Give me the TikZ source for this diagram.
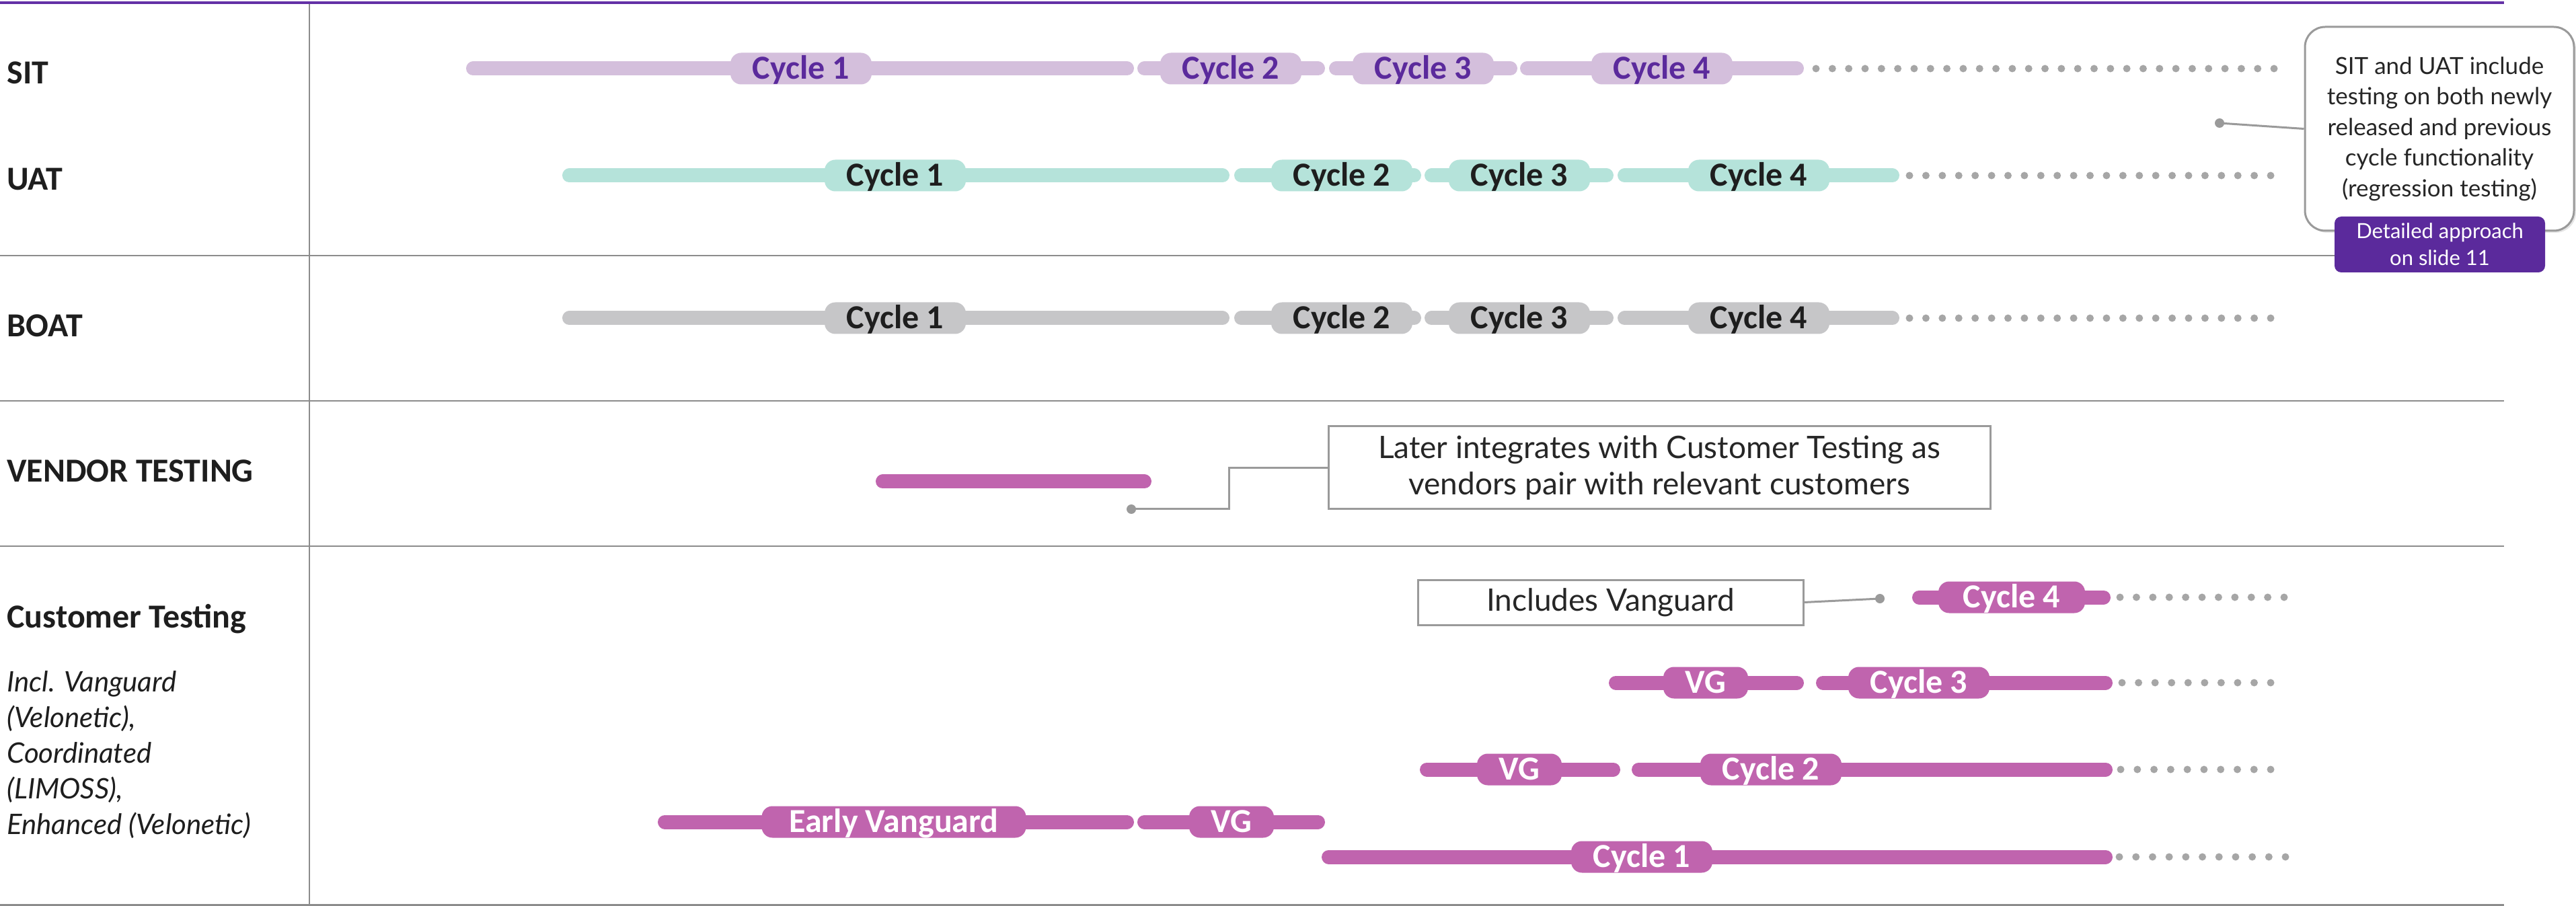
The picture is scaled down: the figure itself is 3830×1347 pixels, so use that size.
\documentclass[tikz,border=0pt]{standalone}
\usepackage{fontspec}
\setmainfont{Lato}
\newfontfamily\headface{Carlito}
\usetikzlibrary{shadows,calc}

\definecolor{sitfill}{HTML}{D4BFDC}
\definecolor{sitink}{HTML}{5B2A9C}
\definecolor{uatfill}{HTML}{B5E3DA}
\definecolor{boatfill}{HTML}{C6C6C8}
\definecolor{custfill}{HTML}{C064AE}
\definecolor{ink}{HTML}{1E1E1E}
\definecolor{softink}{HTML}{262626}
\definecolor{gridgray}{HTML}{8C8C8C}
\definecolor{dotgray}{HTML}{A6A6A6}
\definecolor{boxgray}{HTML}{9A9A9A}
\definecolor{brandpurple}{HTML}{6331A6}
\definecolor{linkpurple}{HTML}{5B2A9C}

% one timeline bar with round ends; #2 and #3 are its outer ends, #4 its row
\newcommand{\tlbar}[4]{\draw[barline,#1] ({#2+10.5},#4) -- ({#3-10.5},#4);}
% a run of #4 grey dots from x=#1 to x=#2 on row #3
\newcommand{\tldots}[4]{%
  \pgfmathsetmacro{\dotstep}{(#2-#1)/(#4-1)}%
  \foreach \k in {1,...,#4}{\fill[dotgray] ({#1+(\k-1)*\dotstep},#3) circle (5.5);}}

\begin{document}
\begin{tikzpicture}[x=0.5pt,y=-0.5pt,
  barline/.style={line width=10.5pt,line cap=round},
  pill/.style={rounded corners=8pt,minimum height=23.5pt,minimum width=105pt,inner sep=0pt,
    text height=15.5pt,text depth=0pt,font=\headface\fontsize{25}{29}\selectfont\bfseries},
  sitpill/.style={pill,fill=sitfill,text=sitink},
  uatpill/.style={pill,fill=uatfill,text=ink},
  boatpill/.style={pill,fill=boatfill,text=ink},
  custpill/.style={pill,fill=custfill,text=white},
  rowlabel/.style={anchor=base west,inner sep=0pt,text=ink,font=\headface\fontsize{25}{29}\selectfont\bfseries},
  rownote/.style={anchor=base west,inner sep=0pt,text=ink,font=\fontsize{21}{25}\selectfont\itshape},
  gridline/.style={draw=gridgray,line width=1.2pt},
  notebox/.style={draw=boxgray,line width=1.5pt,fill=white,text=softink,align=center,inner sep=0pt,
    font=\fontsize{23}{27}\selectfont},
  linkline/.style={draw=boxgray,line width=1.5pt},
  linkdot/.style={fill=boxgray},
]
% canvas
\fill[white] (0,0) rectangle (3830,1347);
\useasboundingbox (0,0) rectangle (3830,1347);

% table rules
\draw[brandpurple,line width=2.2pt] (0,4) -- (3723,4);
\draw[gridline] (460,6) -- (460,1347);
\foreach \yy in {380,596,812,1345.5} \draw[gridline] (0,\yy) -- (3723,\yy);

% row headings
\node[rowlabel] (lsit) at (10,125) {SIT};
\node[rowlabel] (luat) at (10,283) {UAT};
\node[rowlabel] (lboat) at (10,501) {BOAT};
\node[rowlabel] (lvend) at (10,717) {VENDOR TESTING};
\node[rowlabel] (lcust) at (10,933) {Customer Testing};
\node[rownote] (ln1) at (10,1028) {Incl. Vanguard};
\node[rownote] (ln2) at (10,1081) {(Velonetic),};
\node[rownote] (ln3) at (10,1134) {Coordinated};
\node[rownote] (ln4) at (10,1187) {(LIMOSS),};
\node[rownote] (ln5) at (10,1240) {Enhanced (Velonetic)};

% SIT
\tlbar{sitfill}{693}{1686}{102}
\tlbar{sitfill}{1691}{1970}{102}
\tlbar{sitfill}{1976}{2256}{102}
\tlbar{sitfill}{2260}{2682}{102}
\node[sitpill] (sit1) at (1191,102) {Cycle 1};
\node[sitpill] (sit2) at (1830,102) {Cycle 2};
\node[sitpill] (sit3) at (2116,102) {Cycle 3};
\node[sitpill] (sit4) at (2471,102) {Cycle 4};
\tldots{2700}{3381}{102}{29}

% UAT
\tlbar{uatfill}{836}{1828}{261}
\tlbar{uatfill}{1835}{2113}{261}
\tlbar{uatfill}{2118}{2399}{261}
\tlbar{uatfill}{2405}{2824}{261}
\node[uatpill] (uat1) at (1331,261) {Cycle 1};
\node[uatpill] (uat2) at (1995,261) {Cycle 2};
\node[uatpill] (uat3) at (2259,261) {Cycle 3};
\node[uatpill] (uat4) at (2615,261) {Cycle 4};
\tldots{2839}{3376}{261}{23}

% BOAT
\tlbar{boatfill}{836}{1828}{473}
\tlbar{boatfill}{1835}{2113}{473}
\tlbar{boatfill}{2118}{2399}{473}
\tlbar{boatfill}{2405}{2824}{473}
\node[boatpill] (boat1) at (1331,473) {Cycle 1};
\node[boatpill] (boat2) at (1995,473) {Cycle 2};
\node[boatpill] (boat3) at (2259,473) {Cycle 3};
\node[boatpill] (boat4) at (2615,473) {Cycle 4};
\tldots{2839}{3376}{473}{23}

% vendor testing
\tlbar{custfill}{1302}{1712}{716}

% customer testing
\tlbar{custfill}{2843}{3138}{888}
\node[custpill,minimum width=109pt] (cust4) at (2991,888) {Cycle 4};
\tldots{3152}{3396}{888}{11}

\tlbar{custfill}{2392}{2682}{1015}
\tlbar{custfill}{2700}{3141}{1015}
\node[custpill,minimum width=63pt] (vg3) at (2536,1015) {VG};
\node[custpill] (cust3) at (2853,1015) {Cycle 3};
\tldots{3155}{3376}{1015}{10}

\tlbar{custfill}{2111}{2409}{1144}
\tlbar{custfill}{2426}{3141}{1144}
\node[custpill,minimum width=63pt] (vg2) at (2259,1144) {VG};
\node[custpill] (cust2) at (2633,1144) {Cycle 2};
\tldots{3153}{3376}{1144}{10}

\tlbar{custfill}{978}{1686}{1222}
\tlbar{custfill}{1691}{1970}{1222}
\node[custpill,minimum width=196.5pt] (early) at (1329,1222) {Early Vanguard};
\node[custpill,minimum width=63pt] (vg1) at (1831,1222) {VG};

\tlbar{custfill}{1965}{3141}{1274}
\node[custpill] (cust1) at (2441,1274) {Cycle 1};
\tldots{3151}{3398}{1274}{11}

% call-outs
\node[notebox,rounded corners=15pt,minimum width=200pt,minimum height=151.5pt,
  font=\fontsize{17.5}{22.75}\selectfont,
  drop shadow={shadow xshift=1.5pt,shadow yshift=-1.5pt,opacity=0.2}] (sitnote) at (3627,191.5)
  {SIT and UAT include\\testing on both newly\\released and previous\\cycle functionality\\(regression testing)};
\node[fill=linkpurple,rounded corners=5pt,text=white,align=center,inner sep=0pt,
  minimum width=156.5pt,minimum height=41.5pt,font=\fontsize{15.5}{20}\selectfont] (slideref) at (3627.5,363.5)
  {Detailed approach\\on slide 11};
\node[notebox,minimum width=492pt,minimum height=61.5pt] (vendnote) at (2467,695.5)
  {Later integrates with Customer Testing as\\vendors pair with relevant customers};
\node[notebox,minimum width=286.5pt,minimum height=33.5pt] (incnote) at (2394.5,895.5) {Includes Vanguard};

% connectors
\coordinate (sitdot) at (3300,183);
\draw[linkline] (sitdot) -- (sitnote.west);
\fill[linkdot] (sitdot) circle (7);

\coordinate (venddot) at (1682,757);
\draw[linkline] (venddot) -| ($(venddot)!0.5!(vendnote.west)$) |- (vendnote.west);
\fill[linkdot] (venddot) circle (7);

\coordinate (incdot) at (2795,890);
\draw[linkline] (incnote.east) -- (incdot);
\fill[linkdot] (incdot) circle (7);
\end{tikzpicture}
\end{document}
